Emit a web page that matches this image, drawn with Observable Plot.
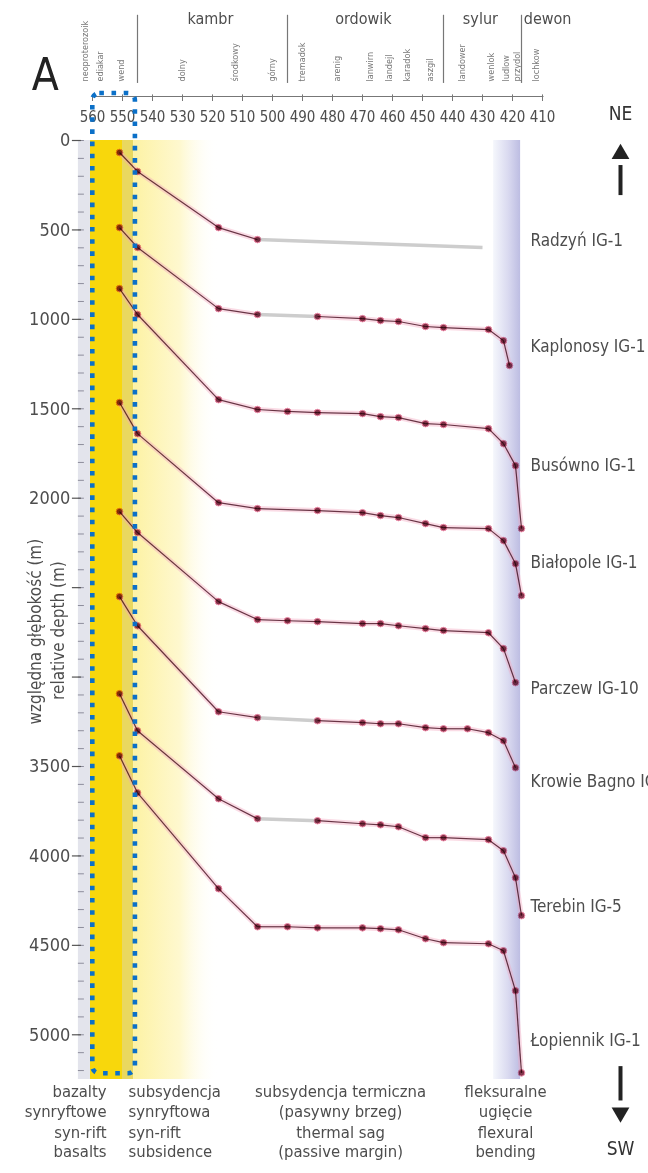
<!DOCTYPE html>
<html><head><meta charset="utf-8">
<script src="https://cdn.jsdelivr.net/npm/d3@7"></script>
<script src="https://cdn.jsdelivr.net/npm/@observablehq/plot@0.6"></script>
<style>
html,body{margin:0;padding:0;background:#fff;}
#chart{width:648px;height:1173px;overflow:hidden;}
#chart svg{display:block;}
</style></head><body><div id="chart"></div>
<script>
// ---------- data ----------
const wells = ["Radzyń IG-1","Kaplonosy IG-1","Busówno IG-1","Białopole IG-1","Parczew IG-10","Krowie Bagno IG-1","Terebin IG-5","Łopiennik IG-1"];
// ages (Ma) of the backstripping points
const stageAges = [551, 545, 518, 505, 495, 485, 470, 464, 458, 449, 443, 435, 428, 423, 421, 419, 417];
// relative depths (m) per well, null = no point
const radzyn    = [67, 173, 487, 554, null, null, null, null, null, null, null, null, null, null, null, null, null];
const kaplonosy = [487, 598, 940, 973, null, 984, 996, 1007, 1012, 1040, 1046, null, 1057, 1119, 1258, null, null];
const busowno   = [828, 973, 1449, 1504, 1515, 1521, 1527, 1544, 1549, 1583, 1588, null, 1611, 1695, null, 1818, 2170];
const bialopole = [1465, 1639, 2025, 2058, null, 2069, 2081, 2097, 2108, 2142, 2164, null, 2170, 2237, null, 2366, 2545];
const parczew   = [2075, 2192, 2578, 2679, 2685, 2690, 2701, 2701, 2713, 2729, 2740, null, 2752, 2841, null, 3031, null];
const krowie    = [2550, 2713, 3194, 3227, null, 3244, 3255, 3261, 3261, 3283, 3289, 3289, 3311, 3356, null, 3507, null];
const terebin   = [3093, 3300, 3680, 3792, null, 3803, 3820, 3826, 3837, 3898, 3898, null, 3909, 3971, null, 4122, 4334];
const lopiennik = [3440, 3647, 4183, 4396, 4396, 4402, 4402, 4407, 4413, 4463, 4485, null, 4491, 4530, null, 4754, 5213];
const depthTable = [radzyn, kaplonosy, busowno, bialopole, parczew, krowie, terebin, lopiennik];
// grey (hiatus) segments: [well index, from stage index, to stage index]
const hiatusSegments = [[1, 3, 5], [5, 3, 5], [6, 3, 5]];
const radzynErosionAges = [505, 430];
const radzynErosionDepths = [554, 598];
const labelDepths = [559, 1150, 1820, 2360, 3065, 3585, 4284, 5034];

const xTicks = d3.range(560, 409, -10);
const yTicks = d3.range(0, 5001, 500);
const yTickLabels = [0, 500, 1000, 1500, 2000, 3500, 4000, 4500, 5000];
const yMinor = d3.range(0, 5201, 100);
const periods = ["kambr", "ordowik", "sylur", "dewon"];
const periodLabelAges = [520.7, 469.7, 430.7, 408.3];
const periodBases = [545, 495, 443, 417];
const stageNames = ["neoproterozoik", "ediakar", "wend", "dolny", "środkowy", "górny", "tremadok", "arenig", "lanwirn", "landejl", "karadok", "aszgil", "landower", "wenlok", "ludlow", "przydol", "lochkow"];
const stageNameAges = [562.3, 557.3, 550.3, 530, 512.3, 500, 490, 478.3, 467.5, 461, 455, 447.3, 436.7, 427, 422, 418.5, 412];
const phasesPL = ["bazalty\nsynryftowe", "subsydencja\nsynryftowa", "subsydencja termiczna\n(pasywny brzeg)", "fleksuralne\nugięcie"];
const phasesEN = ["syn-rift\nbasalts", "syn-rift\nsubsidence", "thermal sag\n(passive margin)", "flexural\nbending"];
const phaseAges = [555.3, 548, 477.3, 422.3];
const phaseAnchors = ["end", "start", "middle", "middle"];
const bands = [
  {x1: 560.7, x2: 550, fill: "#f8d70c"},
  {x1: 550, x2: 546.3, fill: "#e9d860"},
  {x1: 546.3, x2: 518, fill: "url(#gYellow)"},
  {x1: 426.3, x2: 417.3, fill: "url(#gPurple)"}
];

// ---------- derived tables ----------
const points = [];
depthTable.forEach((arr, w) => arr.forEach((d, j) => {
  if (d != null) points.push({well: wells[w], w, j, age: stageAges[j], depth: d});
}));
const segments = [];
wells.forEach((name, w) => {
  const pts = points.filter(p => p.w === w);
  for (let k = 1; k < pts.length; k++) {
    const a = pts[k - 1], b = pts[k];
    const grey = hiatusSegments.some(h => h[0] === w && h[1] === a.j && h[2] === b.j);
    segments.push({w, x1: a.age, y1: a.depth, x2: b.age, y2: b.depth, grey});
  }
});
segments.push({w: 0, x1: radzynErosionAges[0], y1: radzynErosionDepths[0], x2: radzynErosionAges[1], y2: radzynErosionDepths[1], grey: true});
const normalSegs = segments.filter(s => !s.grey);
const greySegs = segments.filter(s => s.grey);

const phaseRows = phasesPL.map((pl, i) => ({pl, en: phasesEN[i], age: phaseAges[i], anchor: phaseAnchors[i]}));
const phaseMarks = ["end", "start", "middle"].flatMap(anchor => {
  const rows = phaseRows.filter(r => r.anchor === anchor);
  return [
    Plot.text(rows, {x: "age", y: 5268, text: "pl", textAnchor: anchor, lineAnchor: "top", lineHeight: 1.2, fontSize: 16.5, fill: "#4d4d4d"}),
    Plot.text(rows, {x: "age", y: 5496, text: "en", textAnchor: anchor, lineAnchor: "top", lineHeight: 1.2, fontSize: 16.5, fill: "#4d4d4d"})
  ];
});

const txt = "#4d4d4d";
const plot = Plot.plot({
  width: 648, height: 1173,
  marginLeft: 89, marginRight: 91, marginTop: 140, marginBottom: 94,
  x: {domain: [561, 405], axis: null},
  y: {domain: [0, 5250], reverse: true, axis: null},
  style: {fontFamily: "'Liberation Sans Narrow','DejaVu Sans Condensed','Liberation Sans',sans-serif", background: "white", overflow: "visible"},
  marks: [
    // phase background bands
    Plot.rect(bands, {x1: "x1", x2: "x2", y1: 0, y2: 5250, fill: d => d.fill}),
    // y axis strip + ticks
    Plot.rect([0], {x1: 564.7, x2: 560.7, y1: 0, y2: 5250, fill: "#e3e4ec"}),
    Plot.ruleY(yMinor, {x1: 564.7, x2: 562.7, stroke: "#8d8d9c"}),
    Plot.ruleY(yTicks, {x1: 566.7, x2: 563.7, stroke: "#555", strokeWidth: 1.2}),
    Plot.text(yTickLabels, {x: 567.4, y: d => d, text: d => String(d), textAnchor: "end", fontSize: 18, fill: txt}),
    // top x axis
    Plot.ruleY([-246], {x1: 560, x2: 409.5, stroke: "#777"}),
    Plot.ruleX(xTicks, {y1: -255, y2: -218, stroke: "#777"}),
    Plot.text(xTicks, {x: d => d, y: -128, text: d => String(d), fontSize: 15, fill: txt}),
    // stratigraphic header
    Plot.ruleX(periodBases, {y1: -700, y2: -319, stroke: "#777", strokeWidth: 1.2}),
    Plot.text(periods, {x: (d, i) => periodLabelAges[i], y: -682, text: d => d, fontSize: 16, fill: txt}),
    Plot.text(stageNames, {x: (d, i) => stageNameAges[i], y: -330, text: d => d, rotate: -90, textAnchor: "start", fontSize: 9, fill: "#777"}),
    // well curves
    Plot.link(normalSegs, {x1: "x1", y1: "y1", x2: "x2", y2: "y2", stroke: "#f3a6bd", strokeWidth: 5, strokeOpacity: 0.4}),
    Plot.link(greySegs, {x1: "x1", y1: "y1", x2: "x2", y2: "y2", stroke: "#cdcdcd", strokeWidth: 3.5}),
    Plot.link(normalSegs, {x1: "x1", y1: "y1", x2: "x2", y2: "y2", stroke: "#6b3d4d", strokeWidth: 1.2, mixBlendMode: "multiply"}),
    Plot.dot(points, {x: "age", y: "depth", r: 3.3, fill: "#84354c", stroke: "#ee8fab", strokeWidth: 1, mixBlendMode: "multiply"}),
    // highlighted basalt column
    Plot.rect([0], {x1: 559.9, x2: 545.7, y1: -263, y2: 5218, fill: "none", stroke: "#0b70c8", strokeWidth: 4.6, strokeDasharray: "4.6,7.6", rx: 7}),
    // well labels
    Plot.text(wells, {x: 414, y: (d, i) => labelDepths[i], text: d => d, textAnchor: "start", fontSize: 17, fill: txt}),
    // phase captions
    ...phaseMarks,
    // y title
    Plot.text(["względna głębokość (m)"], {x: 579, y: 2746, text: d => d, rotate: -90, fontSize: 17, fill: txt}),
    Plot.text(["relative depth (m)"], {x: 571.3, y: 2740, text: d => d, rotate: -90, fontSize: 17, fill: txt}),
    // panel letter
    Plot.text(["A"], {x: 575.7, y: -363, text: d => d, fontSize: 44, fill: "#222"}),
    // orientation arrows
    Plot.text(["NE"], {x: 384, y: -151, text: d => d, fontSize: 19, fill: "#333"}),
    Plot.ruleX([384], {y1: 140, y2: 308, stroke: "#222", strokeWidth: 4}),
    Plot.dot([0], {x: 384, y: 75, symbol: "triangle2", r: 8.5, fill: "#222"}),
    Plot.text(["SW"], {x: 384, y: 5636, text: d => d, fontSize: 19, fill: "#333"}),
    Plot.ruleX([384], {y1: 5178, y2: 5370, stroke: "#222", strokeWidth: 4}),
    Plot.dot([0], {x: 384, y: 5435, symbol: "triangle2", rotate: 180, r: 8.5, fill: "#222"})
  ]
});

const defs = d3.select(plot).insert("defs", ":first-child");
const gy = defs.append("linearGradient").attr("id", "gYellow").attr("x1", 0).attr("x2", 1).attr("y1", 0).attr("y2", 0);
[["0", "#fdf2a4", 1], ["0.55", "#fef8cf", 1], ["1", "#ffffff", 0]].forEach(s => gy.append("stop").attr("offset", s[0]).attr("stop-color", s[1]).attr("stop-opacity", s[2]));
const gp = defs.append("linearGradient").attr("id", "gPurple").attr("x1", 0).attr("x2", 1).attr("y1", 0).attr("y2", 0);
[["0", "#f5f7fc"], ["0.55", "#dadaf0"], ["1", "#bdbde2"]].forEach(s => gp.append("stop").attr("offset", s[0]).attr("stop-color", s[1]));

document.getElementById("chart").appendChild(plot);
</script>
</body></html>
